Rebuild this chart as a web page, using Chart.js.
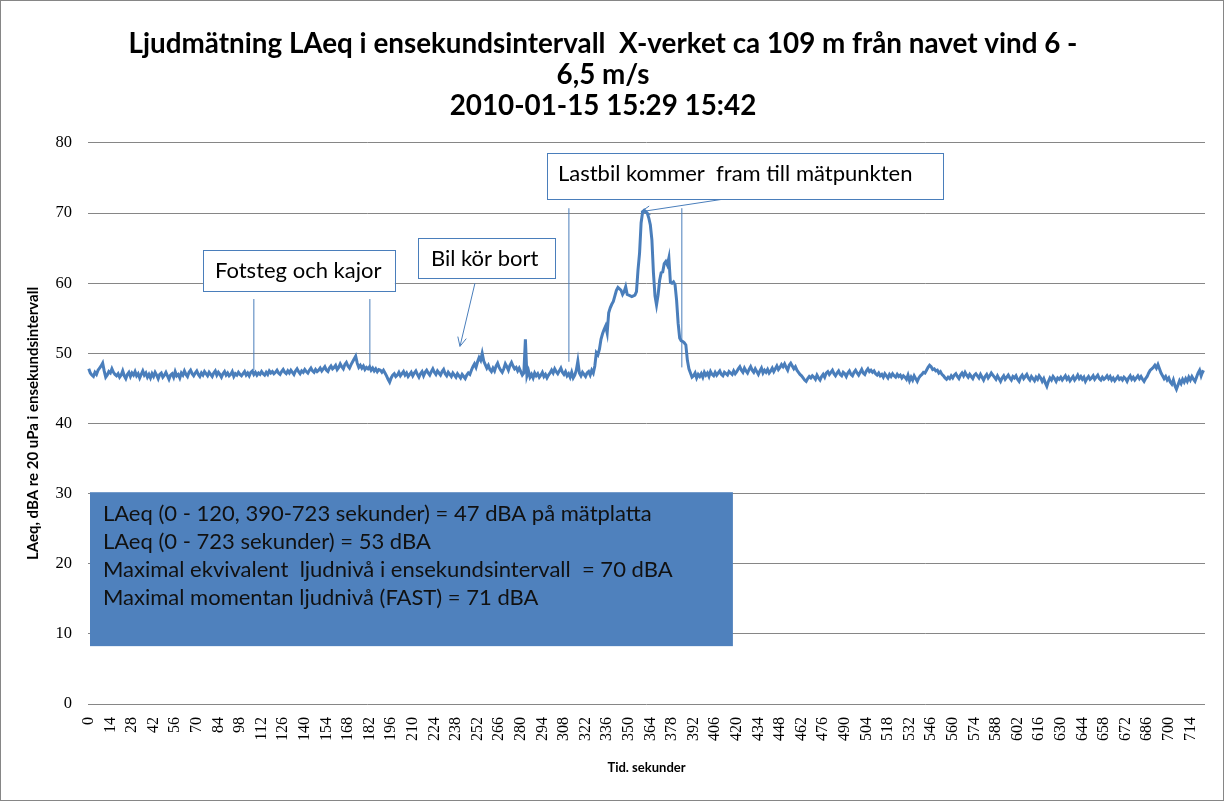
<!DOCTYPE html>
<html>
<head>
<meta charset="utf-8">
<script src="https://cdn.jsdelivr.net/npm/chart.js@4.4.0/dist/chart.umd.min.js"></script>
<style>
body{margin:0;background:#fff}
#wrap{width:1224px;height:801px;box-sizing:border-box;border:1px solid #868686;}
</style>
</head>
<body>
<div id="wrap"><canvas id="myChart" width="1222" height="799"></canvas></div>
<script>
// LAeq per second, 0..723 s
let laeq = [
47.8,47.2,46.9,46.7,47.3,47.0,47.6,47.9,48.2,48.6,
47.5,46.6,46.9,47.4,47.2,47.8,47.3,47.0,46.8,47.1,
46.6,46.9,47.5,46.8,46.4,47.0,47.3,46.7,47.2,46.9,
47.4,46.8,47.1,46.5,47.0,47.5,46.9,47.2,46.6,47.0,
46.5,47.1,46.7,47.3,46.9,46.4,47.0,47.2,46.6,46.9,
47.3,46.8,46.3,46.9,47.1,46.6,47.4,46.8,47.0,46.5,
47.2,46.9,47.5,47.0,46.7,47.3,47.6,47.1,46.8,47.2,
47.5,47.0,46.7,47.2,46.9,47.4,47.1,46.8,47.3,47.0,
46.7,47.2,47.5,46.9,47.3,47.0,46.6,47.1,47.4,46.9,
47.2,46.8,47.0,47.4,46.7,47.1,46.9,47.3,47.0,46.8,
47.1,47.4,46.9,47.2,46.8,47.3,47.5,47.0,47.3,46.9,
47.2,47.0,47.4,47.1,46.9,47.3,47.0,47.5,47.2,47.4,
47.1,47.3,47.6,47.2,47.0,47.4,47.7,47.3,47.1,47.5,
47.2,47.6,47.3,47.0,47.5,47.8,47.4,47.1,47.5,47.3,
47.7,47.4,47.2,47.6,47.9,47.5,47.3,47.7,47.4,47.6,
47.9,47.5,47.8,48.1,47.6,47.4,47.9,48.2,47.8,48.0,
48.3,47.7,48.0,48.5,48.1,47.8,48.4,48.7,48.2,47.9,
48.4,48.8,49.2,49.6,48.6,48.0,48.3,47.9,48.2,47.7,
48.0,47.8,48.1,47.6,47.9,47.5,47.8,47.4,47.7,47.6,
47.3,47.6,47.2,46.8,46.3,45.9,46.5,46.9,47.1,46.7,
46.9,47.3,46.8,47.1,47.4,46.9,47.2,46.7,47.0,47.3,
46.8,47.2,47.5,47.0,46.6,47.1,47.4,46.8,47.3,47.6,
47.2,46.9,47.4,47.8,47.3,47.0,47.5,47.2,46.9,47.4,
47.7,47.1,46.8,47.3,47.0,46.7,47.2,46.9,46.6,47.1,
46.8,46.5,47.0,46.7,46.4,46.9,47.2,47.0,47.6,48.1,
48.5,48.0,48.8,49.4,49.0,50.0,48.9,48.4,47.9,48.3,
47.7,47.4,47.9,47.5,48.2,48.6,48.0,47.6,47.3,47.8,
48.5,48.1,47.6,48.3,48.7,48.2,47.8,48.0,47.5,47.9,
47.4,46.9,47.2,52.0,46.8,47.5,46.6,47.0,46.5,47.2,
46.8,47.1,46.6,46.9,47.3,46.7,47.0,46.5,46.9,47.2,
47.6,47.2,47.8,47.4,47.1,47.5,47.9,47.3,47.0,47.4,
46.8,47.1,46.6,47.3,46.5,46.9,47.6,48.9,47.2,46.8,
47.3,47.0,46.7,47.2,47.4,46.9,47.6,47.2,48.2,50.1,
49.8,50.6,52.0,52.8,53.4,53.9,52.9,55.8,56.5,57.0,
57.4,58.2,59.0,59.4,59.2,59.0,58.4,58.8,59.5,58.4,
58.3,58.2,58.1,58.2,58.3,58.8,61.9,64.3,68.6,70.2,
70.4,70.2,70.0,69.3,68.3,66.2,61.5,58.2,56.9,58.3,
60.4,61.5,61.6,62.8,63.1,62.6,63.6,60.1,60.0,60.2,
59.8,57.6,54.3,52.2,51.8,51.7,51.5,51.2,49.0,47.8,
47.2,46.6,46.8,47.2,46.5,47.0,46.7,47.1,46.6,47.3,
46.9,47.2,46.7,47.4,47.0,46.8,47.3,46.9,47.2,47.5,
47.0,46.8,47.3,47.1,46.9,47.4,47.2,47.0,47.5,47.1,
47.4,47.8,48.1,47.6,47.3,47.9,47.5,47.2,47.7,48.1,
47.6,47.3,47.8,47.4,47.0,47.5,47.9,47.2,47.6,47.3,
47.7,47.2,47.5,47.9,47.4,47.8,48.2,47.7,48.0,48.4,
48.1,48.5,48.0,47.6,48.3,48.6,48.2,47.8,48.1,47.6,
47.3,47.0,46.8,46.5,46.2,46.0,46.4,46.7,46.5,46.8,
46.6,46.3,46.9,46.5,46.2,46.7,47.0,46.6,47.2,47.4,
47.0,47.3,47.6,47.1,46.8,47.2,47.5,47.0,46.8,47.3,
47.1,46.7,47.2,47.5,47.0,46.8,47.3,47.6,47.2,46.9,
47.3,47.7,47.2,47.0,47.5,47.8,47.4,47.6,47.3,47.5,
47.1,46.9,47.2,46.8,47.0,46.6,47.1,46.8,46.5,47.0,
46.7,47.1,46.8,46.6,47.0,46.7,46.9,46.5,46.8,46.6,
46.3,46.9,46.1,46.6,46.2,46.8,46.4,46.0,46.5,46.8,
47.0,47.3,47.2,47.6,48.0,48.3,48.1,47.7,47.8,47.5,
47.6,47.2,47.4,47.0,46.8,46.5,46.3,46.6,46.4,46.8,
46.5,46.9,47.1,46.7,46.4,46.9,47.2,46.8,47.3,46.9,
46.6,47.0,46.7,46.4,46.9,47.1,46.8,46.5,47.0,46.6,
46.2,46.7,47.0,46.5,46.8,47.2,46.9,46.6,46.3,46.8,
46.4,46.0,46.5,46.8,46.3,46.6,46.9,46.5,46.2,46.7,
46.5,46.8,46.3,46.0,46.6,46.9,46.4,46.7,47.0,46.5,
46.2,46.7,46.4,46.1,46.6,46.3,46.8,46.5,46.0,46.4,
45.8,45.3,46.0,46.5,46.2,46.7,46.4,46.0,46.5,46.3,
46.6,46.2,46.5,46.8,46.3,46.6,46.1,46.4,46.7,46.2,
46.5,46.9,46.4,46.7,46.3,46.6,46.0,46.4,46.7,46.3,
46.5,46.8,46.3,46.6,46.9,46.4,46.2,46.6,46.3,46.5,
46.8,46.4,46.7,46.2,46.5,46.1,46.4,46.7,46.3,46.5,
46.2,46.6,46.4,46.0,46.5,46.8,46.3,46.6,46.2,46.5,
46.8,46.4,46.7,46.3,46.0,46.4,46.7,47.2,47.6,47.8,
48.0,48.3,47.9,48.4,47.8,47.2,46.8,46.4,46.7,46.2,
46.5,45.9,45.6,46.2,45.4,44.9,45.5,46.1,45.7,46.3,
45.9,46.4,46.0,46.6,46.2,46.7,46.3,46.0,46.6,47.2,
47.6,46.8,47.4,47.3
];

// seconds on the category axis
let seconds = [];
for (let i = 0; i < laeq.length; i++) seconds.push(String(i));
let labelEvery = 14;

let yMin = 0, yMax = 80, yStep = 10;

let titleLines = [
    'Ljudmätning LAeq i ensekundsintervall  X-verket ca 109 m från navet vind 6 -',
    '6,5 m/s',
    '2010-01-15 15:29 15:42'
];

let infoLines = [
    'LAeq (0 - 120, 390-723 sekunder) = 47 dBA på mätplatta',
    'LAeq (0 - 723 sekunder) = 53 dBA',
    'Maximal ekvivalent  ljudnivå i ensekundsintervall  = 70 dBA',
    'Maximal momentan ljudnivå (FAST) = 71 dBA'
];

// callouts, placed in axis units (second, dB)
let boxes = [
    {text: 'Fotsteg och kajor', x0: 74, x1: 198.4, y0: 64.7, y1: 58.9, tx: 81.8, ty: 61.7},
    {text: 'Bil kör bort', x0: 213.4, x1: 302.2, y0: 66.45, y1: 60.75, tx: 221.8, ty: 63.45},
    {text: 'Lastbil kommer  fram till mätpunkten', x0: 296.9, x1: 553.5, y0: 78.57, y1: 72.0, tx: 304.1, ty: 75.6}
];
let pointers = [
    {x0: 107, y0: 57.75, x1: 107, y1: 47.6},
    {x0: 182.2, y0: 57.75, x1: 182.2, y1: 47.6},
    {x0: 250.3, y0: 60.0, x1: 240.6, y1: 51.0, head: true},
    {x0: 311.2, y0: 70.7, x1: 311.2, y1: 48.8},
    {x0: 384.4, y0: 70.7, x1: 384.4, y1: 48.0},
    {x0: 411.6, y0: 72.0, x1: 357.9, y1: 70.2, head: true}
];
let infoBox = {x0: 0.8, x1: 417.5, y0: 30.2, y1: 8.25, tx: 9.2, ty: [27.08, 23.08, 19.09, 15.09]};

const notes = {
    id: 'notes',
    afterDatasetsDraw(chart) {
        const ctx = chart.ctx;
        const x = chart.scales.x, y = chart.scales.y;
        ctx.save();
        ctx.textBaseline = 'middle';
        ctx.textAlign = 'left';
        ctx.font = '22px Lato';

        // pointers
        ctx.strokeStyle = '#4A7EBB';
        ctx.lineWidth = 1;
        pointers.forEach(p => {
            let ax = x.getPixelForValue(p.x0), ay = y.getPixelForValue(p.y0);
            let bx = x.getPixelForValue(p.x1), by = y.getPixelForValue(p.y1);
            ctx.beginPath();
            ctx.moveTo(ax, ay);
            ctx.lineTo(bx, by);
            ctx.stroke();
            if (p.head) {
                let a = Math.atan2(by - ay, bx - ax);
                ctx.beginPath();
                ctx.moveTo(bx - 10 * Math.cos(a - 0.45), by - 10 * Math.sin(a - 0.45));
                ctx.lineTo(bx, by);
                ctx.lineTo(bx - 10 * Math.cos(a + 0.45), by - 10 * Math.sin(a + 0.45));
                ctx.stroke();
            }
        });

        // callout boxes
        boxes.forEach(b => {
            let l = x.getPixelForValue(b.x0), r = x.getPixelForValue(b.x1);
            let t = y.getPixelForValue(b.y0), btm = y.getPixelForValue(b.y1);
            ctx.fillStyle = '#fff';
            ctx.fillRect(l, t, r - l, btm - t);
            ctx.strokeStyle = '#4A7EBB';
            ctx.strokeRect(Math.round(l) + 0.5, Math.round(t) + 0.5, Math.round(r - l), Math.round(btm - t));
            ctx.fillStyle = '#000';
            ctx.fillText(b.text, x.getPixelForValue(b.tx), y.getPixelForValue(b.ty));
        });

        // info box
        let l = x.getPixelForValue(infoBox.x0), r = x.getPixelForValue(infoBox.x1);
        let t = y.getPixelForValue(infoBox.y0), btm = y.getPixelForValue(infoBox.y1);
        ctx.fillStyle = '#4F81BD';
        ctx.fillRect(l, t, r - l, btm - t);
        ctx.fillStyle = '#111';
        infoLines.forEach((s, i) => {
            ctx.fillText(s, x.getPixelForValue(infoBox.tx), y.getPixelForValue(infoBox.ty[i]));
        });
        ctx.restore();
    }
};

let ctx = document.getElementById('myChart').getContext('2d');
let myChart = new Chart(ctx, {
    type: 'line',
    data: {
        labels: seconds,
        datasets: [{
            label: 'LAeq',
            data: laeq,
            borderColor: '#4A7EBB',
            borderWidth: 3,
            pointRadius: 0,
            tension: 0,
            fill: false
        }]
    },
    options: {
        responsive: false,
        animation: false,
        layout: {padding: {left: 0, right: 18, top: 0, bottom: 0}},
        plugins: {
            legend: {display: false},
            tooltip: {enabled: false},
            title: {
                display: true,
                text: titleLines,
                color: '#000',
                font: {family: 'Lato', weight: 'bold', size: 27.8, lineHeight: 1.115},
                padding: {top: 27.5, bottom: 21.5}
            }
        },
        scales: {
            x: {
                offset: true,
                grid: {display: false, drawTicks: false},
                border: {display: false},
                ticks: {
                    autoSkip: false,
                    minRotation: 90,
                    maxRotation: 90,
                    padding: 13,
                    color: '#000',
                    font: {family: 'Liberation Serif', size: 16},
                    callback: (v, i) => i % labelEvery === 0 ? seconds[i] : null
                },
                title: {
                    display: true,
                    text: 'Tid. sekunder',
                    color: '#000',
                    font: {family: 'Lato', weight: 'bold', size: 13},
                    padding: {top: 0, bottom: 24}
                },
                afterFit: s => { s.height = 96; }
            },
            y: {
                min: yMin,
                max: yMax,
                grid: {color: '#868686', lineWidth: 1, drawTicks: false},
                border: {display: false},
                ticks: {
                    stepSize: yStep,
                    padding: 16,
                    color: '#000',
                    font: {family: 'Liberation Serif', size: 16.5}
                },
                title: {
                    display: true,
                    text: 'LAeq, dBA re 20 uPa i ensekundsintervall',
                    color: '#000',
                    font: {family: 'Lato', weight: 'bold', size: 15},
                    padding: {top: 23, bottom: 0}
                },
                afterFit: s => { s.width = 87; }
            }
        }
    },
    plugins: [notes]
});
</script>
</body>
</html>
